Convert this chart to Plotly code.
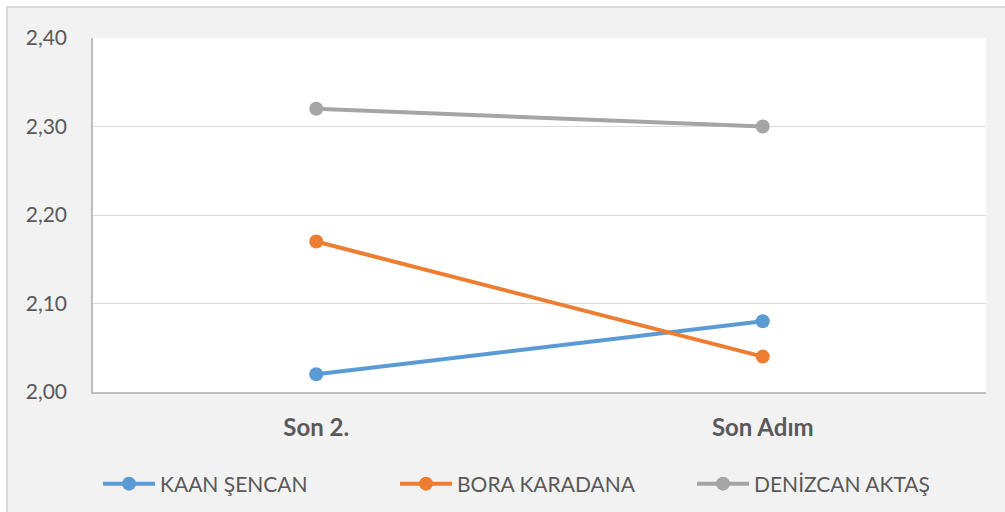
import plotly.graph_objects as go

categories = ["Son 2.", "Son Adım"]
kaan = [2.02, 2.08]
bora = [2.17, 2.04]
deniz = [2.32, 2.30]
names = ["KAAN ŞENCAN", "BORA KARADANA", "DENİZCAN AKTAŞ"]
colors = ["#5b9bd5", "#ed7d31", "#a5a5a5"]
y_ticks = [2.0, 2.1, 2.2, 2.3, 2.4]

W, H = 1005, 512
L, R, T, B = 93, 19, 38, 120
pw, ph = W - L - R, H - T - B

def px_x(p):
    return (p - L) / pw

def px_y(p):
    return (H - B - p) / ph

fig = go.Figure()
for name, vals, col in zip(names, [kaan, bora, deniz], colors):
    fig.add_trace(go.Scatter(
        x=categories, y=vals, name=name, mode="lines+markers",
        line=dict(color=col, width=4),
        marker=dict(color=col, size=14),
    ))

fig.update_layout(
    width=W, height=H,
    margin=dict(l=L, r=R, t=T, b=B, autoexpand=False),
    paper_bgcolor="white",
    plot_bgcolor="rgba(0,0,0,0)",
    separators=",.",
    font=dict(family="Lato", size=21, color="#595959"),
    showlegend=True,
    legend=dict(
        orientation="h", x=px_x(98), xanchor="left",
        y=px_y(484), yanchor="middle",
        font=dict(family="Lato", size=21, color="#595959"),
        bgcolor="rgba(0,0,0,0)",
        itemwidth=52,
        entrywidth=230,
    ),
    shapes=[
        dict(type="rect", xref="paper", yref="paper", layer="below",
             x0=px_x(7), x1=px_x(1012), y0=px_y(520), y1=px_y(7),
             fillcolor="#f2f2f2", line=dict(color="#d9d9d9", width=2)),
        dict(type="rect", xref="paper", yref="paper", layer="below",
             x0=0, x1=1, y0=0, y1=1, fillcolor="white", line=dict(width=0)),
    ],
)
fig.update_xaxes(
    type="category", range=[-0.5, 1.5],
    showgrid=False, showline=True, linecolor="#bfbfbf", linewidth=1.5,
    ticks="", ticklabelstandoff=13,
    tickfont=dict(family="Lato", size=24, color="#595959", weight="bold"),
    zeroline=False,
)
fig.update_yaxes(
    range=[2.0, 2.4], tickvals=y_ticks, tickformat=".2f",
    showgrid=True, gridcolor="#d9d9d9", gridwidth=1,
    showline=True, linecolor="#bfbfbf", linewidth=1.5,
    ticks="", ticklabelstandoff=20,
    tickfont=dict(family="Lato", size=21, color="#595959"),
    zeroline=False,
)

fig.write_html("out.html", config={"displayModeBar": False},
               post_script="document.body.style.margin='0';document.body.style.padding='0';")
